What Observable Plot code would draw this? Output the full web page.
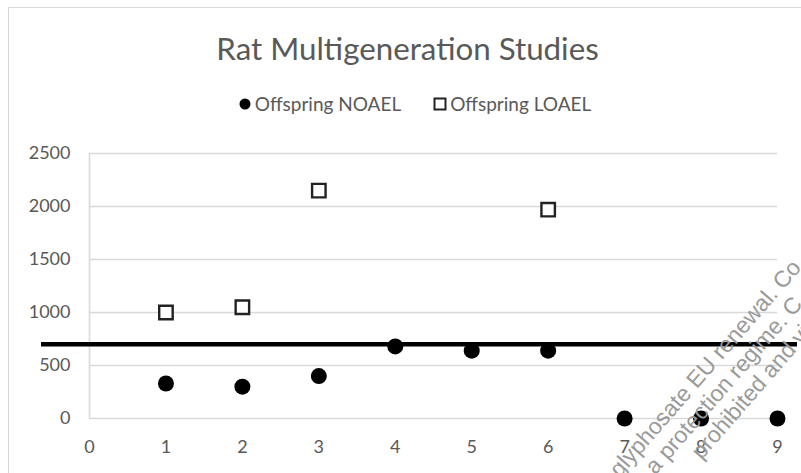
<!DOCTYPE html>
<html>
<head>
<meta charset="utf-8">
<script src="https://cdn.jsdelivr.net/npm/d3@7"></script>
<script src="https://cdn.jsdelivr.net/npm/@observablehq/plot@0.6"></script>
<style>
  body { margin: 0; background: #fff; }
  #chart { position: relative; width: 801px; height: 473px; overflow: hidden; font-family: Lato, "Open Sans", sans-serif; color: #595959; }
  #frame { position: absolute; left: 8px; top: 7px; width: 1000px; height: 700px; border: 1px solid #d9d9d9; box-sizing: border-box; }
  #title { position: absolute; left: 0; width: 815px; top: 29px; text-align: center; font-size: 31.3px; line-height: 38px; color: #595959; }
  #legend { position: absolute; left: 0; width: 829px; top: 91px; display: flex; justify-content: center; gap: 32px; font-size: 19px; line-height: 26px; color: #595959; }
  #legend .item { display: flex; align-items: center; gap: 3px; }
  #plot { position: absolute; left: 0; top: 130px; }
  #wm { position: absolute; left: 0; top: 0; pointer-events: none; }
</style>
</head>
<body>
<div id="chart">
  <div id="frame"></div>
  <div id="title">Rat Multigeneration Studies</div>
  <div id="legend"></div>
  <div id="plot"></div>
  <svg id="wm" width="801" height="473"></svg>
</div>
<script>
// Study number (x) and offspring dose levels (y)
const studies = [1, 2, 3, 4, 5, 6, 7, 8, 9];
const offspringNOAEL = [330, 300, 400, 680, 640, 640, 0, 0, 0];
const offspringLOAEL = [1000, 1050, 2150, null, null, 1970, null, null, null];
const referenceLevel = [700];
const xTicks = [0, 1, 2, 3, 4, 5, 6, 7, 8, 9];
const yTicks = [0, 500, 1000, 1500, 2000, 2500];
const seriesNames = ["Offspring NOAEL", "Offspring LOAEL"];
const watermarkLines = [
  ["glyphosate EU renewal.", "Co"],
  ["a protection regime.", "C"],
  ["prohibited and", "vio"]
];

const noaelData = studies.map((s, i) => ({study: s, value: offspringNOAEL[i]}));
const loaelData = studies.map((s, i) => ({study: s, value: offspringLOAEL[i]})).filter(d => d.value != null);

// Legend
const legend = d3.select("#legend");
const it1 = legend.append("div").attr("class", "item");
it1.append("svg").attr("width", 14).attr("height", 14)
  .append("circle").attr("cx", 7).attr("cy", 7).attr("r", 5.5).attr("fill", "black");
it1.append("span").text(seriesNames[0]);
const it2 = legend.append("div").attr("class", "item");
it2.append("svg").attr("width", 14).attr("height", 14)
  .append("rect").attr("x", 1.5).attr("y", 1.5).attr("width", 11).attr("height", 11)
  .attr("fill", "white").attr("stroke", "#222").attr("stroke-width", 2);
it2.append("span").text(seriesNames[1]);

const chart = Plot.plot({
  width: 801,
  height: 343,
  marginTop: 23,
  marginBottom: 55,
  marginLeft: 89,
  marginRight: 24,
  style: { fontFamily: "Lato, 'Open Sans', sans-serif", color: "#595959", background: "transparent", overflow: "visible" },
  x: { domain: [0, 9], label: null },
  y: { domain: [0, 2500], label: null },
  marks: [
    Plot.gridY(yTicks, { stroke: "#d9d9d9", strokeOpacity: 1, strokeWidth: 1.6 }),
    Plot.ruleX([0], { stroke: "#d9d9d9", strokeWidth: 1.6 }),
    Plot.axisX(xTicks, { tickSize: 0, tickPadding: 22, fontSize: 18, fill: "#595959", tickFormat: d => String(d) }),
    Plot.axisY(yTicks, { tickSize: 0, tickPadding: 19, fontSize: 18, fill: "#595959", tickFormat: d => String(d) }),
    Plot.ruleY(referenceLevel, { stroke: "black", strokeWidth: 4.5, insetLeft: -48, insetRight: -20 }),
    Plot.dot(loaelData, { x: "study", y: "value", symbol: "square", r: 7.6, fill: "white", stroke: "#222", strokeWidth: 2.4 }),
    Plot.dot(noaelData, { x: "study", y: "value", r: 8, fill: "black" })
  ]
});
document.getElementById("plot").appendChild(chart);

// Diagonal notice text across the lower right corner
const wm = d3.select("#wm").append("g")
  .attr("transform", "translate(779,295) rotate(-49)")
  .attr("font-family", "'Liberation Sans', Arial, sans-serif")
  .attr("font-size", 23)
  .attr("fill", "#9a9a9a");
const offsets = [[0, 0], [-14, 25], [-30, 50]];
watermarkLines.forEach((parts, i) => {
  const [dx, dy] = offsets[i];
  wm.append("text").attr("x", dx).attr("y", dy).attr("text-anchor", "end").text(parts[0]);
  wm.append("text").attr("x", dx + 6).attr("y", dy).attr("text-anchor", "start").text(parts[1]);
});
</script>
</body>
</html>
